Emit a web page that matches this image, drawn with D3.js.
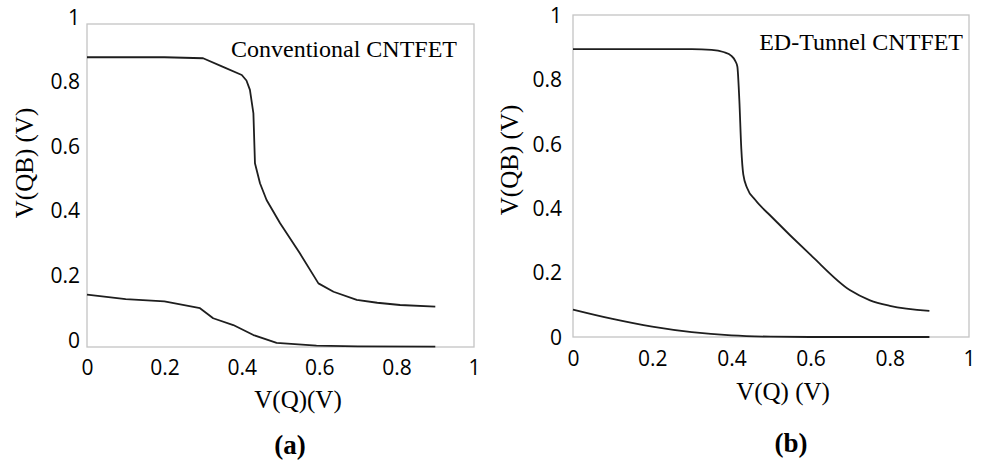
<!DOCTYPE html>
<html lang="en">
<head>
  <meta charset="UTF-8">
  <title>VTC curves CNTFET</title>
  <script src="https://d3js.org/d3.v7.min.js"></script>
  <style>
    body { margin: 0; background: #fff; }
    .tick text { font-family: "Open Sans", sans-serif; font-size: 21px; fill: #000; }
    .title { font-family: "Liberation Serif", "Times New Roman", serif; fill: #000; }
  </style>
</head>
<body>
  <svg width="982" height="463"></svg>

  <script>
    // panel (a) conventional CNTFET
    const convX   = [0, 0.1, 0.2, 0.3, 0.35, 0.4, 0.412, 0.421, 0.43, 0.434, 0.447, 0.464, 0.499, 0.55, 0.598, 0.637, 0.697, 0.75, 0.809, 0.9];
    const convHi  = [0.897, 0.897, 0.897, 0.894, 0.868, 0.842, 0.825, 0.796, 0.723, 0.569, 0.507, 0.455, 0.383, 0.29, 0.197, 0.171, 0.146, 0.137, 0.13, 0.125];
    const convLoX = [0, 0.1, 0.2, 0.292, 0.326, 0.378, 0.43, 0.49, 0.593, 0.7, 0.9];
    const convLo  = [0.162, 0.148, 0.141, 0.12, 0.089, 0.068, 0.037, 0.013, 0.004, 0.002, 0.001];

    // panel (b) ED-Tunnel CNTFET
    const tunX   = [0, 0.1, 0.2, 0.3, 0.35, 0.38, 0.4, 0.41, 0.415, 0.42, 0.425, 0.43, 0.44, 0.46, 0.5, 0.6, 0.7, 0.75, 0.8, 0.9];
    const tunHi  = [0.894, 0.894, 0.894, 0.894, 0.892, 0.885, 0.873, 0.857, 0.84, 0.737, 0.585, 0.505, 0.462, 0.426, 0.375, 0.255, 0.145, 0.114, 0.097, 0.081];
    const tunLoX = [0, 0.1, 0.2, 0.3, 0.4, 0.5, 0.6, 0.7, 0.8, 0.9];
    const tunLo  = [0.085, 0.056, 0.032, 0.015, 0.005, 0.001, 0, 0, 0, 0];

    const tickVals = [0, 0.2, 0.4, 0.6, 0.8, 1];

    const svg = d3.select("svg");

    function panel(cfg) {
      const g = svg.append("g").attr("transform", `translate(${cfg.left},${cfg.top})`);
      const x = d3.scaleLinear().domain([0, 1]).range([0, cfg.w]);
      const y = d3.scaleLinear().domain([0, 1]).range([cfg.h, 0]);

      g.append("rect")
        .attr("x", 0).attr("y", 0)
        .attr("width", cfg.w).attr("height", cfg.h)
        .attr("fill", "none")
        .attr("stroke", "#c4c4c4")
        .attr("stroke-width", 1.3);

      const xa = g.append("g")
        .attr("transform", `translate(0,${cfg.h})`)
        .call(d3.axisBottom(x).tickValues(tickVals).tickSize(0).tickPadding(cfg.xPad).tickFormat(d3.format("~g")));
      xa.select(".domain").remove();

      const ya = g.append("g")
        .call(d3.axisLeft(y).tickValues(tickVals).tickSize(0).tickPadding(cfg.yPad).tickFormat(d3.format("~g")));
      ya.select(".domain").remove();
      ya.selectAll("text").attr("dy", cfg.yDy);

      const line = d3.line()
        .x(d => x(d[0]))
        .y(d => y(d[1]))
        .curve(cfg.curve);

      cfg.series.forEach(s => {
        g.append("path")
          .datum(s[0].map((v, i) => [v, s[1][i]]))
          .attr("d", line)
          .attr("fill", "none")
          .attr("stroke", "#1e1e1e")
          .attr("stroke-width", 1.8)
          .attr("stroke-linejoin", "round");
      });

      g.append("text")
        .attr("class", "title")
        .attr("x", cfg.tagX).attr("y", cfg.tagY)
        .attr("text-anchor", "end")
        .style("font-size", "24px")
        .text(cfg.tag);

      svg.append("text")
        .attr("class", "title")
        .attr("x", cfg.xtX).attr("y", cfg.xtY)
        .attr("text-anchor", "middle")
        .style("font-size", "25px")
        .text(cfg.xTitle);

      svg.append("text")
        .attr("class", "title")
        .attr("transform", `translate(${cfg.ytX},${cfg.ytY}) rotate(-90)`)
        .attr("text-anchor", "middle")
        .style("font-size", "25px")
        .text("V(QB) (V)");

      svg.append("text")
        .attr("class", "title")
        .attr("x", cfg.capX).attr("y", cfg.capY)
        .attr("text-anchor", "middle")
        .style("font-size", "27px")
        .style("font-weight", "bold")
        .text(cfg.caption);
    }

    panel({
      left: 87, top: 24, w: 387, h: 323,
      xPad: 13, yPad: 7, yDy: "-0.0em",
      curve: d3.curveLinear,
      series: [[convX, convHi], [convLoX, convLo]],
      tag: "Conventional CNTFET", tagX: 370, tagY: 33,
      xTitle: "V(Q)(V)", xtX: 298, xtY: 408,
      ytX: 33, ytY: 163,
      caption: "(a)", capX: 290, capY: 454
    });

    panel({
      left: 573, top: 15, w: 396, h: 322,
      xPad: 14, yPad: 11, yDy: "0.35em",
      curve: d3.curveMonotoneX,
      series: [[tunX, tunHi], [tunLoX, tunLo]],
      tag: "ED-Tunnel CNTFET", tagX: 390, tagY: 35,
      xTitle: "V(Q) (V)", xtX: 783, xtY: 400,
      ytX: 518, ytY: 160,
      caption: "(b)", capX: 791, capY: 452
    });
  </script>
</body>
</html>
